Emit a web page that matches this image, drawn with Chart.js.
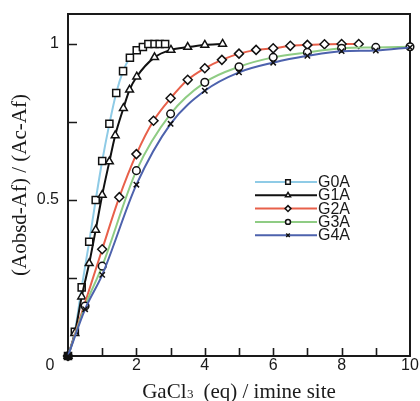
<!DOCTYPE html>
<html>
<head>
<meta charset="utf-8">
<script src="https://cdn.jsdelivr.net/npm/chart.js@4/dist/chart.umd.min.js"></script>
<style>
html,body{margin:0;padding:0;background:#fff;}
#wrap{width:420px;height:401px;position:relative;}
</style>
</head>
<body>
<div id="wrap"><canvas id="c"></canvas></div>
<script>
// ---- data ----
const seriesNames = ["G0A", "G1A", "G2A", "G3A", "G4A"];
const g0aX = [0, 0.2, 0.4, 0.62, 0.81, 1.0, 1.21, 1.41, 1.61, 1.81, 2.01, 2.19, 2.35, 2.53, 2.68, 2.84];
const g0aY = [0, 0.078, 0.22, 0.366, 0.5, 0.625, 0.744, 0.843, 0.913, 0.956, 0.98, 0.99, 1.0, 1.0, 1.0, 1.0];
const g1aX = [0, 0.2, 0.4, 0.62, 0.81, 1.0, 1.21, 1.38, 1.62, 1.8, 2.01, 2.53, 3.01, 3.5, 4.0, 4.52];
const g1aY = [0, 0.073, 0.19, 0.297, 0.404, 0.516, 0.623, 0.707, 0.794, 0.853, 0.895, 0.957, 0.981, 0.99, 0.997, 1.0];
const g2aX = [0, 1.0, 1.5, 2.0, 2.5, 3.0, 3.5, 4.0, 4.5, 5.0, 5.5, 6.0, 6.5, 7.0, 7.5, 8.0, 8.5];
const g2aY = [0, 0.342, 0.509, 0.647, 0.754, 0.826, 0.885, 0.922, 0.949, 0.969, 0.981, 0.986, 0.994, 0.997, 0.999, 1.0, 1.0];
const g3aX = [0, 0.5, 1, 2, 3, 4, 5, 6, 7, 8, 9, 10];
const g3aY = [0, 0.16, 0.288, 0.594, 0.776, 0.877, 0.927, 0.957, 0.973, 0.986, 0.989, 0.991];
const g4aX = [0, 0.5, 1, 2, 3, 4, 5, 6, 7, 8, 9, 10];
const g4aY = [0, 0.15, 0.26, 0.549, 0.744, 0.85, 0.909, 0.94, 0.962, 0.977, 0.979, 0.989];
const xTickLabels = ["0", "2", "4", "6", "8", "10"];
const xTickValues = [0, 2, 4, 6, 8, 10];
const xMinorValues = [1, 3, 5, 7, 9];
const yTickLabels = ["0.5", "1"];
const yTickValues = [0.5, 1];
const yMinorValues = [0.25, 0.75];
const xTitle = ["GaCl", "3", "  (eq) / imine site"];
const yTitle = "(Aobsd-Af) / (Ac-Af)";

// ---- styles ----
const colors = ["#8fcbe6", "#111111", "#e8604a", "#8fcc84", "#4d62ad"];
const styles = ["rect", "triangle", "rectRot", "circle", "crossRot"];
const radii = [5, 4.5, 4.5, 3.8, 3.8];
const xs = [g0aX, g1aX, g2aX, g3aX, g4aX];
const ys = [g0aY, g1aY, g2aY, g3aY, g4aY];

const datasets = seriesNames.map((n, i) => ({
  label: n,
  data: xs[i].map((x, k) => ({x: x, y: ys[i][k]})),
  borderColor: colors[i],
  borderWidth: 2,
  pointStyle: styles[i],
  pointRadius: radii[i],
  pointBorderColor: "#111",
  pointBorderWidth: 1.5,
  pointBackgroundColor: ctx => (ctx.raw && ctx.raw.x === 0 ? "#111" : "#fff"),
  cubicInterpolationMode: "monotone",
  clip: false,
  order: 5 - i
}));

const deco = {
  id: "deco",
  beforeDatasetsDraw(chart) {
    const {ctx, chartArea: a, scales: {x, y}} = chart;
    ctx.save();
    ctx.strokeStyle = "#1a1a1a";
    ctx.lineWidth = 2;
    ctx.strokeRect(a.left, a.top, a.right - a.left, a.bottom - a.top);
    ctx.lineWidth = 1.6;
    ctx.beginPath();
    xTickValues.concat(xMinorValues).forEach(v => {
      const px = Math.round(x.getPixelForValue(v)) + 0.5;
      if (v === 0 || v === 10) return;
      ctx.moveTo(px, a.bottom); ctx.lineTo(px, a.bottom - 8);
    });
    yTickValues.concat(yMinorValues).forEach(v => {
      const py = Math.round(y.getPixelForValue(v)) + 0.5;
      ctx.moveTo(a.left, py); ctx.lineTo(a.left + 9, py);
    });
    ctx.stroke();
    ctx.restore();
  },
  afterDraw(chart) {
    const {ctx, chartArea: a, scales: {x, y}} = chart;
    ctx.save();
    ctx.fillStyle = "#1a1a1a";
    ctx.font = "16px 'Liberation Sans', Arial, sans-serif";
    ctx.textBaseline = "middle";
    ctx.textAlign = "center";
    xTickValues.forEach((v, i) => {
      let px = x.getPixelForValue(v);
      if (v === 0) px -= 18;
      ctx.fillText(xTickLabels[i], px, a.bottom + 10);
    });
    ctx.textAlign = "right";
    yTickValues.forEach((v, i) => {
      ctx.fillText(yTickLabels[i], a.left - 9, y.getPixelForValue(v));
    });
    // x title
    ctx.textBaseline = "alphabetic";
    ctx.textAlign = "left";
    const f1 = "21px 'Liberation Serif', serif";
    const f2 = "13px 'Liberation Serif', serif";
    ctx.font = f1; const w1 = ctx.measureText(xTitle[0]).width;
    ctx.font = f2; const w2 = ctx.measureText(xTitle[1]).width;
    ctx.font = f1; const w3 = ctx.measureText(xTitle[2]).width;
    const cx = (a.left + a.right) / 2;
    let sx = cx - (w1 + w2 + w3) / 2;
    const by = 398;
    ctx.font = f1; ctx.fillText(xTitle[0], sx, by);
    ctx.font = f2; ctx.fillText(xTitle[1], sx + w1 + 0.5, by);
    ctx.font = f1; ctx.fillText(xTitle[2], sx + w1 + w2, by);
    // y title
    ctx.save();
    ctx.translate(20, (a.top + a.bottom) / 2);
    ctx.rotate(-Math.PI / 2);
    ctx.textAlign = "center";
    ctx.textBaseline = "middle";
    ctx.font = f1;
    ctx.fillText(yTitle, 0, 0);
    ctx.restore();
    // legend
    const lx0 = 255, lx1 = 317, mx = 288, ly0 = 182, dy = 13.3;
    chart.data.datasets.forEach((ds, i) => {
      const ly = ly0 + i * dy;
      ctx.strokeStyle = ds.borderColor;
      ctx.lineWidth = 2;
      ctx.beginPath(); ctx.moveTo(lx0, ly); ctx.lineTo(lx1, ly); ctx.stroke();
      ctx.strokeStyle = "#111";
      ctx.fillStyle = "#fff";
      ctx.lineWidth = 1.5;
      Chart.helpers.drawPoint(ctx, {pointStyle: ds.pointStyle, radius: ds.pointRadius * 0.65, rotation: 0, borderWidth: 1.5}, mx, ly);
      ctx.fillStyle = "#1a1a1a";
      ctx.font = "16px 'Liberation Sans', Arial, sans-serif";
      ctx.textAlign = "left";
      ctx.textBaseline = "middle";
      ctx.fillText(ds.label, 318, ly + 0.5);
    });
    ctx.restore();
  }
};

new Chart(document.getElementById("c"), {
  type: "line",
  data: {datasets},
  options: {
    responsive: true,
    maintainAspectRatio: false,
    animation: false,
    layout: {padding: {left: 68, top: 14, right: 10, bottom: 45}, autoPadding: false},
    plugins: {legend: {display: false}, tooltip: {enabled: false}},
    scales: {
      x: {type: "linear", min: 0, max: 10, display: false},
      y: {type: "linear", min: 0, max: 1.096, display: false}
    }
  },
  plugins: [deco]
});
</script>
</body>
</html>
